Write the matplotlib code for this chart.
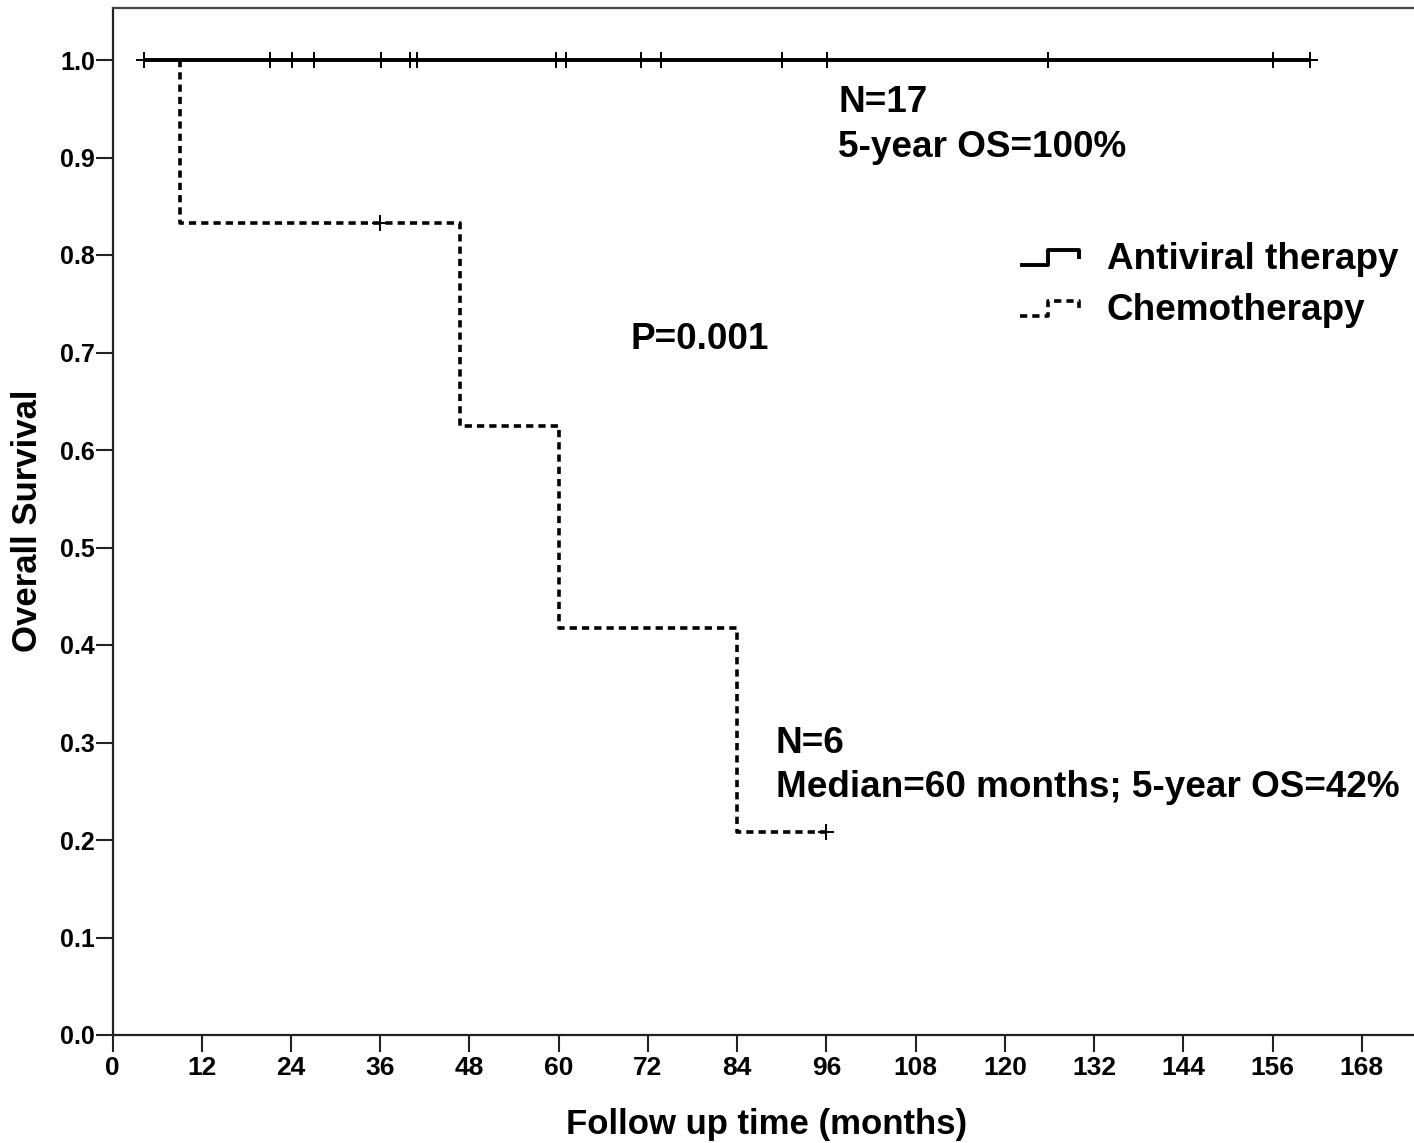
import numpy as np
import matplotlib
matplotlib.use( 'Agg' )
import matplotlib.pyplot as plt
from matplotlib.legend_handler import HandlerBase
from matplotlib.lines import Line2D

plt.rcParams[ 'font.family' ] = [ 'Liberation Sans', 'DejaVu Sans' ]

NARROW = [ 'Liberation Sans Narrow', 'Liberation Sans', 'DejaVu Sans' ]

# Antiviral therapy: no events, censored patients only (months)
av_start    = 4.2
av_end      = 161.0
av_censored = [ 4.2, 21.2, 24.1, 27.1, 36.1, 40.0, 40.9, 59.6, 61.0,
                71.1, 73.8, 90.0, 96.1, 125.8, 156.1, 161.0 ]

# Chemotherapy: step curve
ch_times    = [ 9.1, 9.1, 46.7, 60.0, 84.0, 96.0 ]
ch_surv     = [ 1.0, 0.833, 0.625, 0.417, 0.208, 0.208 ]
ch_censored = [ 36.0, 96.0 ]
ch_cens_y   = [ 0.833, 0.208 ]

x_ticks = list( range( 0, 169, 12 ) )
y_ticks = [ round( v * 0.1, 1 ) for v in range( 11 ) ]


class StepHandler( HandlerBase ):
    def create_artists( self, legend, orig_handle, xdescent, ydescent,
                        width, height, fontsize, trans ):
        xs = np.array( [ 0.0, 0.48, 0.48, 1.0, 1.0 ] ) * width - xdescent
        ys = np.array( [ 0.1, 0.1, 0.75, 0.75, 0.35 ] ) * height - ydescent
        line = Line2D( xs, ys )
        line.update_from( orig_handle )
        line.set_marker( '' )
        line.set_data( xs, ys )
        line.set_transform( trans )
        return [ line ]


W, H = 1414, 1143
fig = plt.figure( figsize = ( W / 100, H / 100 ), dpi = 100 )
px_per_month = 7.436
ax_left   = 112.5
ax_bottom = 1035
ax_top    = 7.5
x_max     = 176
ax = fig.add_axes( [ ax_left / W, 1 - ax_bottom / H,
                     x_max * px_per_month / W, ( ax_bottom - ax_top ) / H ] )

av_line, = ax.plot( [ av_start, av_end ], [ 1.0, 1.0 ], color = 'black',
                    lw = 2.8, solid_capstyle = 'butt', label = 'Antiviral therapy' )
ax.plot( av_censored, [ 1.0 ] * len( av_censored ), linestyle = 'none',
         marker = '+', ms = 12, mew = 1.4, color = 'black' )

ch_line, = ax.step( ch_times, ch_surv, where = 'post', color = 'black',
                    lw = 2.6, dashes = ( 2.0, 1.4 ), label = 'Chemotherapy' )
ax.plot( ch_censored, ch_cens_y, linestyle = 'none', marker = '+',
         ms = 12, mew = 1.4, color = 'black' )

ax.set_xlim( 0, x_max )
ax.set_ylim( 0, ( ax_bottom - ax_top ) / 975 )
ax.set_xticks( x_ticks )
ax.set_yticks( y_ticks )
ax.set_yticklabels( [ f'{v:.1f}' for v in y_ticks ] )

for s in [ 'left', 'bottom' ]:
    ax.spines[ s ].set_linewidth( 1.6 )
    ax.spines[ s ].set_color( '#222222' )
ax.spines[ 'top' ].set_linewidth( 1.6 )
ax.spines[ 'top' ].set_color( '#444444' )
ax.spines[ 'right' ].set_visible( False )

ax.tick_params( axis = 'both', direction = 'out', length = 12, width = 1.5,
                color = '#222222' )
ax.tick_params( axis = 'x', pad = 3 )
ax.tick_params( axis = 'y', pad = 0.5 )
for lab in ax.get_xticklabels():
    lab.set_fontfamily( NARROW )
    lab.set_fontweight( 'bold' )
    lab.set_fontsize( 19 )
for lab in ax.get_yticklabels():
    lab.set_fontfamily( NARROW )
    lab.set_fontweight( 'bold' )
    lab.set_fontsize( 18 )

ax.set_xlabel( 'Follow up time (months)', fontsize = 25, fontweight = 'bold',
               fontfamily = NARROW, labelpad = 20 )
ax.set_ylabel( 'Overall Survival', fontsize = 25, fontweight = 'bold',
               labelpad = 12 )

txt = dict( fontsize = 26.6, fontweight = 'bold', va = 'center', ha = 'left' )
ax.text( 97.6, 0.956, 'N=17', **txt )
ax.text( 97.6, 0.910, '5-year OS=100%', **txt )
ax.text( 69.6, 0.713, 'P=0.001', **txt )
ax.text( 89.2, 0.299, 'N=6', **txt )
ax.text( 89.2, 0.254, 'Median=60 months; 5-year OS=42%', **txt )

leg = ax.legend( handles = [ av_line, ch_line ],
                 handler_map = { Line2D: StepHandler() },
                 loc = 'upper left', bbox_to_anchor = ( 1020 / W, 1 - 242 / H ),
                 bbox_transform = fig.transFigure, frameon = False,
                 prop = { 'size': 26.6, 'weight': 'bold' }, borderpad = 0,
                 borderaxespad = 0, handlelength = 1.6, handleheight = 0.6,
                 handletextpad = 0.75, labelspacing = 0.42 )

fig.savefig( 'out.png', dpi = 100 )
plt.close( fig )
